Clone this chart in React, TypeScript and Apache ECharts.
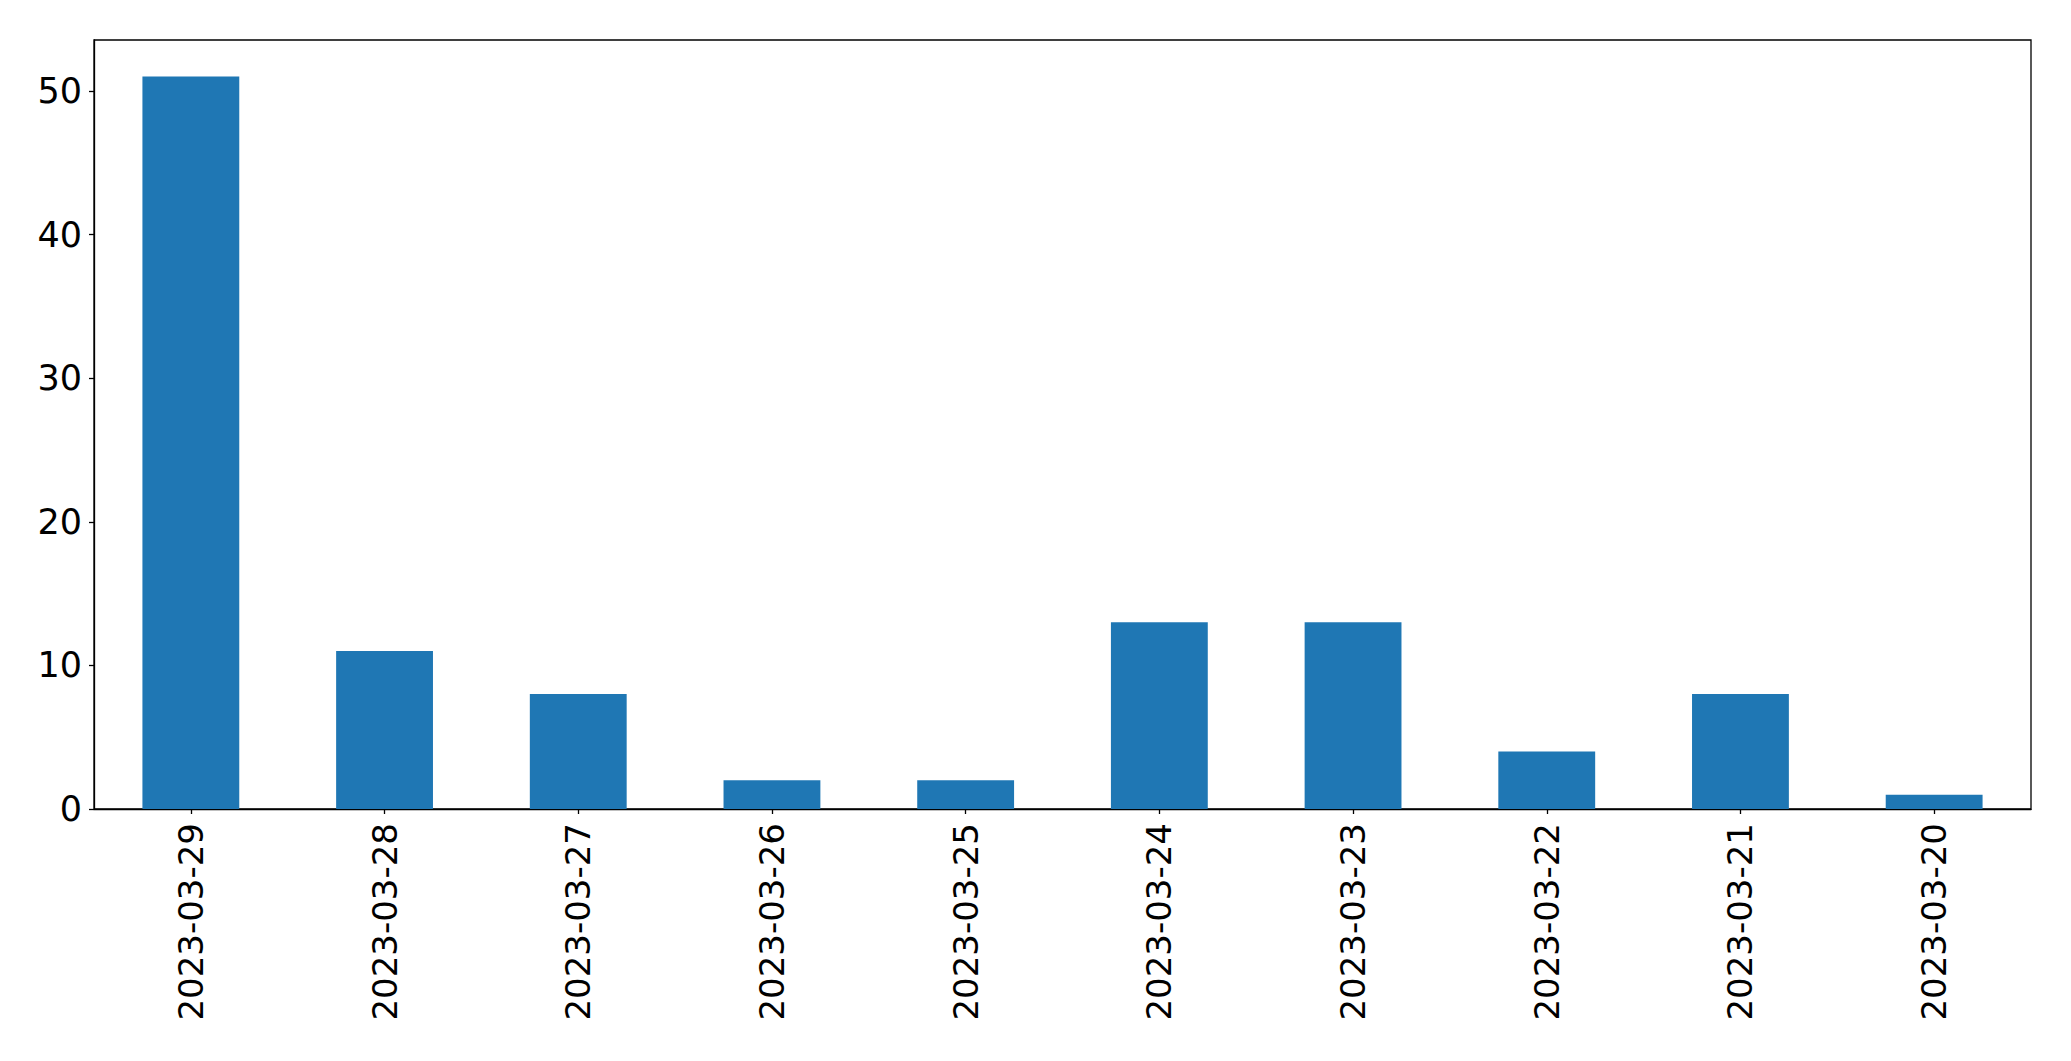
import React, { useEffect, useRef } from "react";
import * as echarts from "echarts";

const categories = [
  "2023-03-29",
  "2023-03-28",
  "2023-03-27",
  "2023-03-26",
  "2023-03-25",
  "2023-03-24",
  "2023-03-23",
  "2023-03-22",
  "2023-03-21",
  "2023-03-20",
];
const values = [51, 11, 8, 2, 2, 13, 13, 4, 8, 1];
const yMax = 53.55;

export default function App() {
  const ref = useRef<HTMLDivElement>(null);
  useEffect(() => {
    if (!ref.current) return;
    const chart = echarts.init(ref.current, undefined, { renderer: "svg" });
    const font = "'DejaVu Sans', sans-serif";
    chart.setOption({
      animation: false,
      backgroundColor: "#ffffff",
      grid: {
        left: 94,
        top: 40,
        width: 1937,
        height: 769,
        show: true,
        borderColor: "#000000",
        borderWidth: 1.3,
        containLabel: false,
      },
      xAxis: {
        type: "category",
        data: categories,
        boundaryGap: true,
        axisLine: { show: true, lineStyle: { color: "#000000", width: 1.3 } },
        axisTick: { show: true, alignWithLabel: true, length: 5, lineStyle: { color: "#000000", width: 1.3 } },
        axisLabel: {
          rotate: 90,
          interval: 0,
          margin: 14,
          fontSize: 34,
          fontFamily: font,
          color: "#000000",
        },
        splitLine: { show: false },
      },
      yAxis: {
        type: "value",
        min: 0,
        max: yMax,
        interval: 10,
        axisLine: { show: true, lineStyle: { color: "#000000", width: 1.3 } },
        axisTick: { show: true, length: 5, lineStyle: { color: "#000000", width: 1.3 } },
        axisLabel: {
          margin: 12,
          fontSize: 35,
          fontFamily: font,
          color: "#000000",
          showMaxLabel: false,
          formatter: (v: number) => (v % 10 === 0 ? String(v) : ""),
        },
        splitLine: { show: false },
      },
      series: [
        {
          type: "bar",
          data: values,
          barWidth: "50%",
          itemStyle: { color: "#1f77b4" },
        },
      ],
    });
    return () => chart.dispose();
  }, []);
  return (
    <div
      ref={ref}
      style={{ position: "fixed", left: 0, top: 0, width: 2071, height: 1061, background: "#fff" }}
    />
  );
}
